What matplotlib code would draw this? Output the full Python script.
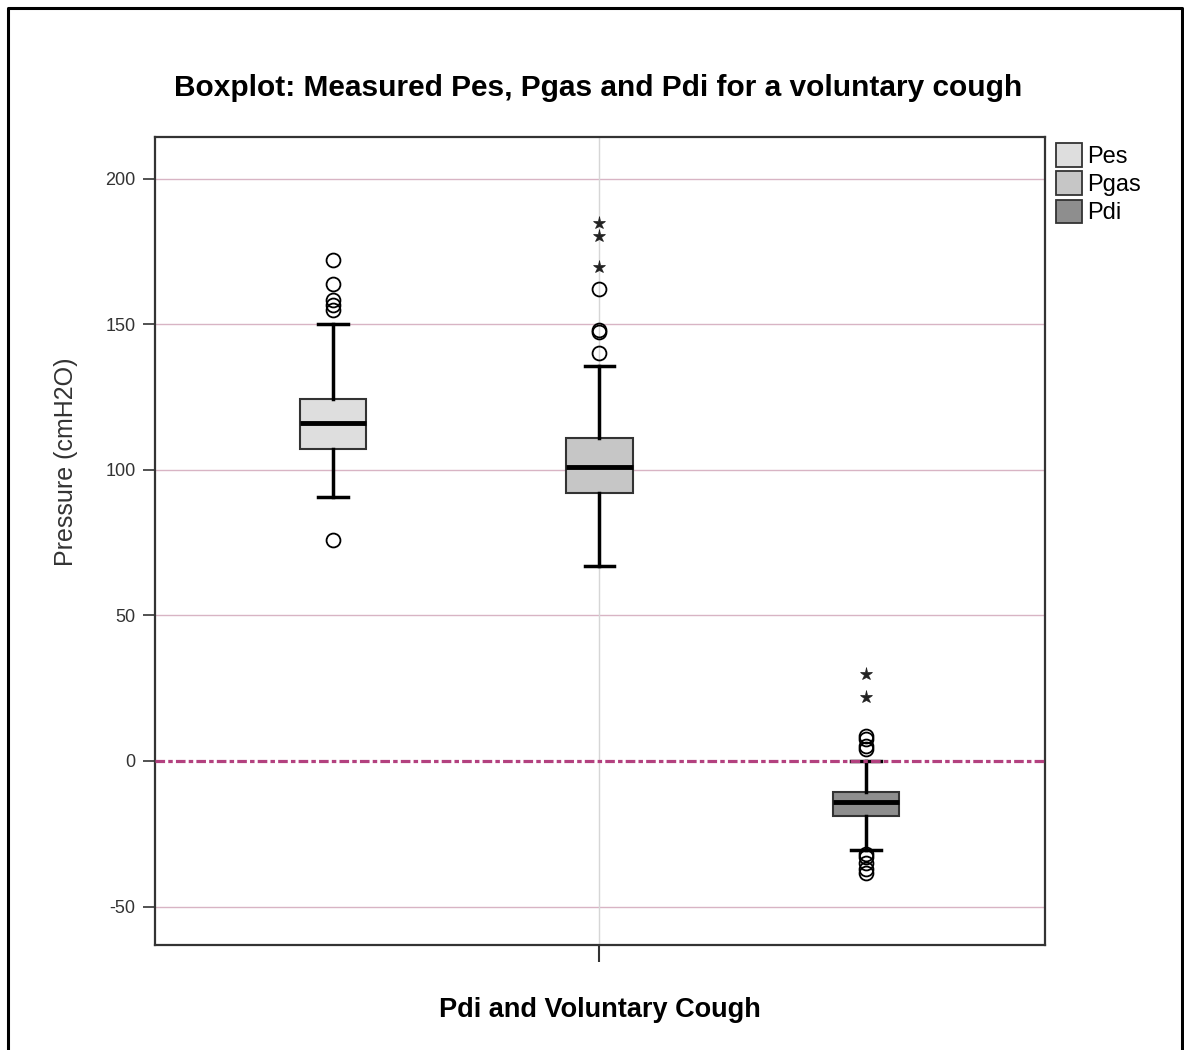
import matplotlib
matplotlib.use("Agg")
import matplotlib.pyplot as plt
from matplotlib.lines import Line2D
from matplotlib.patches import Patch

# -----------------------------
# Data
# -----------------------------
labels = ["Pes", "Pgas", "Pdi"]
colors = ["#dedede", "#c6c6c6", "#8e8e8e"]

q1 = [107, 92, -19]
medians = [116, 101, -14]
q3 = [124.3, 111, -10.6]
whisker_low = [90.7, 67, -30.5]
whisker_high = [150, 135.7, 0]

# circle outliers
outliers = [
    [172, 163.8, 158.3, 156.6, 155, 75.9],
    [162, 148, 147.3, 140],
    [8.5, 7.5, 5, 4, -32, -33, -35, -37, -38.5],
]
# extreme values (stars)
extremes = [
    [],
    [184.8, 180.3, 169.6],
    [30, 22],
]

positions = [1, 2, 3]

plt.rcParams["font.family"] = ["Liberation Sans", "DejaVu Sans"]
plt.rcParams["axes.unicode_minus"] = False

fig = plt.figure(figsize=(11.84, 10.5), dpi=100)
ax = fig.add_axes([155 / 1184, 105 / 1050, 890 / 1184, 808 / 1050])

# -----------------------------
# Grid and reference line
# -----------------------------
ax.set_ylim(-63.2, 214.3)
ax.set_xlim(0.332, 3.672)
ax.set_yticks([-50, 0, 50, 100, 150, 200])
for y in [-50, 50, 100, 150, 200]:
    ax.axhline(y, color="#d8b4c4", lw=1, zorder=0)
ax.axvline(2, color="#d6d6d6", lw=1, zorder=0)
ax.axhline(0, color="#b3417f", lw=2.3, linestyle=(0, (3, 1, 1.4, 1)), zorder=4)

# -----------------------------
# Boxes
# -----------------------------
stats = []
for i in range(3):
    stats.append({
        "med": medians[i], "q1": q1[i], "q3": q3[i],
        "whislo": whisker_low[i], "whishi": whisker_high[i],
        "fliers": outliers[i], "label": labels[i],
    })

bp = ax.bxp(
    stats, positions=positions, widths=0.248, capwidths=0.11,
    patch_artist=True,
    boxprops=dict(edgecolor="#333333", linewidth=1.5),
    medianprops=dict(color="black", linewidth=3.5),
    whiskerprops=dict(color="black", linewidth=2.5),
    capprops=dict(color="black", linewidth=2.5),
    flierprops=dict(marker="o", markersize=10, markerfacecolor="none",
                    markeredgecolor="black", markeredgewidth=1.3),
    zorder=3,
)
for patch, c in zip(bp["boxes"], colors):
    patch.set_facecolor(c)

for pos, ext in zip(positions, extremes):
    if ext:
        ax.plot([pos] * len(ext), ext, linestyle="none", marker="*",
                markersize=9.5, color="#222222", markeredgewidth=0.5, zorder=5)

# -----------------------------
# Axes styling
# -----------------------------
ax.set_xticks([2])
ax.set_xticklabels([""])
ax.tick_params(axis="x", direction="out", length=12, width=1.5, color="#333333")
ax.tick_params(axis="y", direction="out", length=9, width=1.2, color="#333333",
               labelsize=13, labelcolor="#333333", pad=5)
for s in ax.spines.values():
    s.set_color("#333333")
    s.set_linewidth(1.6)

fig.text(598 / 1184, 1 - 88 / 1050, "Boxplot: Measured Pes, Pgas and Pdi for a voluntary cough",
         ha="center", va="center", fontsize=21.5, fontweight="bold")
fig.text(600 / 1184, 1 - 1010 / 1050, "Pdi and Voluntary Cough",
         ha="center", va="center", fontsize=19.5, fontweight="bold")
fig.text(66 / 1184, 1 - 462 / 1050, "Pressure (cmH2O)", rotation=90,
         ha="center", va="center", fontsize=18, color="#333333")

handles = [Patch(facecolor=c, edgecolor="#333333", linewidth=1.3) for c in colors]
ax.legend(handles, labels, loc="upper left", bbox_to_anchor=(0.997, 1.01),
          frameon=False, fontsize=17, handlelength=1.1, handleheight=1.15,
          handletextpad=0.2, labelspacing=0.15, borderaxespad=0.2)

# outer frame (left, top, right)
fig.add_artist(Line2D([8 / 1184, 8 / 1184, 1182 / 1184, 1182 / 1184],
                      [0, 1 - 8 / 1050, 1 - 8 / 1050, 0],
                      transform=fig.transFigure, color="black", lw=2.2))

fig.savefig("out.png", dpi=100)
